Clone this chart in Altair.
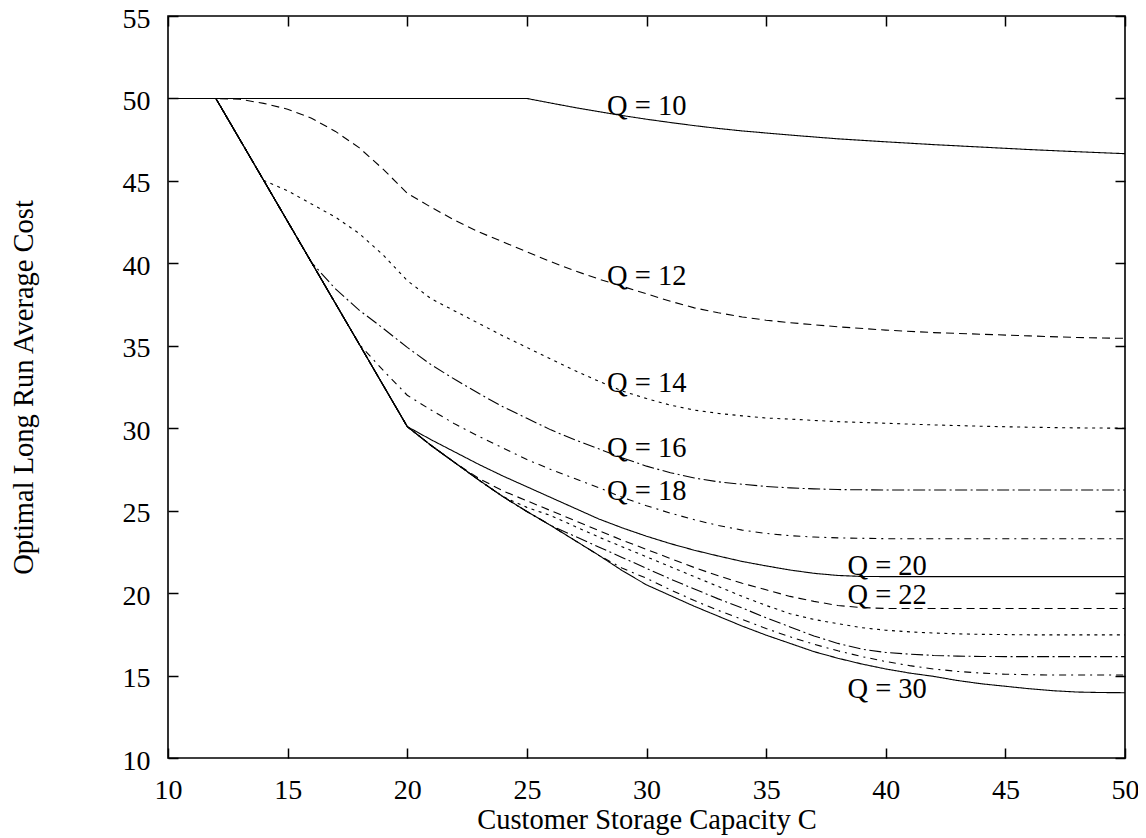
import altair as alt
import pandas as pd

# ---------------- data ----------------
# shared envelope: upper branch 10..20 and the Q = 30 curve beyond 20
ENV_C = [10, 12, 14, 16, 18, 20, 21, 22, 23, 24, 25, 26, 27, 28, 29, 30,
         31, 32, 33, 34, 35, 36, 37, 38, 39, 40, 41, 42, 43, 44, 45, 46,
         47, 48, 49, 50]
ENV_COST = [50, 50, 45.03, 40.05, 35.08, 30.1, 28.95, 27.9, 26.85, 25.85,
            24.95, 24.1, 23.2, 22.3, 21.35, 20.5, 19.85, 19.2, 18.6, 18.0,
            17.45, 16.95, 16.45, 16.05, 15.7, 15.4, 15.15, 14.95, 14.7,
            14.5, 14.35, 14.2, 14.08, 14.0, 13.97, 13.96]

# each curve's own part after it leaves the envelope
Q10_C = [25, 26, 27, 28, 29, 30, 31, 32, 33, 34, 36, 38, 40, 42, 44, 46, 48, 50]
Q10_COST = [50, 49.72, 49.45, 49.2, 48.96, 48.74, 48.54, 48.35, 48.18, 48.03,
            47.78, 47.55, 47.37, 47.2, 47.05, 46.9, 46.77, 46.65]

Q12_C = [13, 14, 15, 16, 17, 18, 19, 20, 21, 22, 23, 24, 25, 26, 27, 28, 29,
         30, 31, 32, 33, 34, 35, 36, 38, 40, 42, 44, 46, 48, 50]
Q12_COST = [49.95, 49.7, 49.35, 48.8, 48.0, 47.0, 45.7, 44.25, 43.4, 42.6,
            41.9, 41.3, 40.7, 40.1, 39.55, 39.05, 38.6, 38.15, 37.7, 37.3,
            37.0, 36.75, 36.55, 36.4, 36.15, 35.95, 35.8, 35.7, 35.6, 35.5,
            35.45]

Q14_C = [15, 16, 17, 18, 19, 20, 21, 22, 23, 24, 25, 26, 27, 28, 29, 30, 31,
         32, 33, 34, 35, 36, 38, 40, 42, 44, 46, 48, 50]
Q14_COST = [44.4, 43.6, 42.8, 41.8, 40.5, 38.95, 37.85, 37.1, 36.35, 35.6,
            34.9, 34.2, 33.5, 32.85, 32.25, 31.8, 31.4, 31.1, 30.9, 30.75,
            30.62, 30.55, 30.4, 30.3, 30.2, 30.12, 30.06, 30.02, 30.0]

Q16_C = [17, 18, 19, 20, 21, 22, 23, 24, 25, 26, 27, 28, 29, 30, 31, 32, 33,
         34, 35, 36, 37, 38, 40, 50]
Q16_COST = [38.45, 37.15, 36.05, 34.9, 33.85, 32.95, 32.1, 31.3, 30.6, 29.9,
            29.3, 28.75, 28.2, 27.7, 27.3, 26.98, 26.75, 26.6, 26.47, 26.38,
            26.32, 26.28, 26.25, 26.25]

Q18_C = [19, 20, 21, 22, 23, 24, 25, 26, 27, 28, 29, 30, 31, 32, 33, 34, 35,
         36, 37, 38, 40, 50]
Q18_COST = [33.5, 32.0, 31.1, 30.25, 29.5, 28.8, 28.1, 27.5, 26.95, 26.4,
            25.8, 25.3, 24.85, 24.45, 24.1, 23.82, 23.62, 23.48, 23.4, 23.35,
            23.3, 23.3]

Q20_C = [21, 22, 23, 24, 25, 26, 27, 28, 29, 30, 31, 32, 33, 34, 35, 36, 37,
         38, 39, 40, 50]
Q20_COST = [29.3, 28.55, 27.8, 27.1, 26.45, 25.8, 25.15, 24.5, 23.95, 23.45,
            23.0, 22.6, 22.25, 21.92, 21.65, 21.4, 21.2, 21.07, 21.01, 21.0,
            21.0]

Q22_C = [23, 24, 25, 26, 27, 28, 29, 30, 31, 32, 33, 34, 35, 36, 37, 38, 39,
         40, 50]
Q22_COST = [26.95, 26.2, 25.6, 25.0, 24.4, 23.8, 23.2, 22.65, 22.1, 21.55,
            21.05, 20.6, 20.2, 19.8, 19.5, 19.25, 19.12, 19.07, 19.07]

Q24_C = [25, 26, 27, 28, 29, 30, 31, 32, 33, 34, 35, 36, 37, 38, 39, 40, 41,
         42, 43, 44, 46, 50]
Q24_COST = [25.2, 24.7, 24.05, 23.4, 22.8, 22.2, 21.6, 21.0, 20.4, 19.8,
            19.25, 18.75, 18.4, 18.15, 17.9, 17.75, 17.65, 17.58, 17.53,
            17.5, 17.47, 17.47]

Q26_C = [27, 28, 29, 30, 31, 32, 33, 34, 35, 36, 37, 38, 39, 40, 41, 42, 43,
         44, 45, 50]
Q26_COST = [23.45, 22.8, 22.15, 21.5, 20.85, 20.25, 19.65, 19.1, 18.5, 17.95,
            17.4, 16.95, 16.6, 16.4, 16.3, 16.22, 16.18, 16.16, 16.15, 16.15]

Q28_C = [29, 30, 31, 32, 33, 34, 35, 36, 37, 38, 39, 40, 41, 42, 43, 44, 45,
         46, 47, 50]
Q28_COST = [21.5, 20.9, 20.2, 19.55, 18.95, 18.4, 17.85, 17.35, 16.9, 16.5,
            16.15, 15.85, 15.6, 15.4, 15.25, 15.15, 15.08, 15.05, 15.03, 15.03]

Q_VALUES = [10, 12, 14, 16, 18, 20, 22, 24, 26, 28, 30]
BRANCHES = {
    10: (Q10_C, Q10_COST), 12: (Q12_C, Q12_COST), 14: (Q14_C, Q14_COST),
    16: (Q16_C, Q16_COST), 18: (Q18_C, Q18_COST), 20: (Q20_C, Q20_COST),
    22: (Q22_C, Q22_COST), 24: (Q24_C, Q24_COST), 26: (Q26_C, Q26_COST),
    28: (Q28_C, Q28_COST), 30: ([], []),
}

LABEL_TEXT = ["Q = 10", "Q = 12", "Q = 14", "Q = 16", "Q = 18",
              "Q = 20", "Q = 22", "Q = 30"]
LABEL_C = [28.35, 28.35, 28.35, 28.35, 28.35, 38.4, 38.4, 38.4]
LABEL_COST = [48.99, 38.68, 32.21, 28.24, 25.65, 21.1, 19.34, 13.62]

X_TICKS = [10, 15, 20, 25, 30, 35, 40, 45, 50]
Y_TICKS = [10, 15, 20, 25, 30, 35, 40, 45, 50, 55]

# line styles cycle like the original: solid, dashed, dotted, dash-dot, dash-dot (fine)
DASHES = [[1, 0], [8, 5], [3, 4.5], [12, 3.5, 2, 3.5], [7, 5, 2, 5],
          [1, 0], [8, 5], [3, 4.5], [12, 3.5, 2, 3.5], [7, 5, 2, 5], [1, 0]]

# ---------------- build table ----------------
rows = []
for q in Q_VALUES:
    start = q if q < 30 else 50
    for c, v in zip(ENV_C, ENV_COST):
        if c <= start:
            rows.append({"Q": str(q), "C": c, "cost": v})
    bc, bv = BRANCHES[q]
    for c, v in zip(bc, bv):
        rows.append({"Q": str(q), "C": c, "cost": v})
df = pd.DataFrame(rows)
lab = pd.DataFrame({"label": LABEL_TEXT, "C": LABEL_C, "cost": LABEL_COST})

FONT = "Liberation Serif, Times New Roman, serif"
x_scale = alt.Scale(domain=[10, 50], nice=False, zero=False)
y_scale = alt.Scale(domain=[10, 55], nice=False, zero=False)

common_axis = dict(offset=-10, tickSize=10, tickWidth=1.5, tickColor="black",
                   domain=False, grid=False)

lines = alt.Chart(df).mark_line(color="black", strokeWidth=1.1).encode(
    x=alt.X("C:Q", scale=x_scale, axis=alt.Axis(
        orient="bottom", values=X_TICKS, labelPadding=18, labelFont=FONT,
        labelFontSize=28, labelColor="black", labelFlush=False,
        labelOverlap=False, title="Customer Storage Capacity C",
        titleFont=FONT, titleFontSize=28.5, titleFontWeight="normal",
        titleColor="black", titleX=478.5, titleY=80,
        titleBaseline="alphabetic", titleAlign="center", **common_axis)),
    y=alt.Y("cost:Q", scale=y_scale, axis=alt.Axis(
        orient="left", values=Y_TICKS, labelPadding=18, labelFont=FONT,
        labelFontSize=28, labelColor="black", labelOverlap=False,
        labelOffset=3,
        title="Optimal Long Run Average Cost", titleFont=FONT,
        titleFontSize=28.5, titleFontWeight="normal", titleColor="black",
        titleX=-146, titleY=371, titleAngle=270, titleBaseline="alphabetic",
        titleAlign="center", **common_axis)),
    strokeDash=alt.StrokeDash("Q:N", scale=alt.Scale(
        domain=[str(q) for q in Q_VALUES], range=DASHES), legend=None),
)

labels = alt.Chart(lab).mark_text(
    align="left", baseline="alphabetic", font=FONT, fontSize=28.5,
    color="black").encode(
    x=alt.X("C:Q", scale=x_scale, axis=alt.Axis(
        orient="top", values=X_TICKS, labels=False, title="", **common_axis)),
    y=alt.Y("cost:Q", scale=y_scale, axis=alt.Axis(
        orient="right", values=Y_TICKS, labels=False, title="", **common_axis)),
    text="label:N",
)

chart = alt.layer(lines, labels).resolve_axis(
    x="independent", y="independent"
).properties(
    width=957, height=742,
    padding={"left": 160, "top": 8, "right": 13, "bottom": 80},
    autosize=alt.AutoSizeParams(type="none"),
    background="white",
).configure_view(stroke="black", strokeWidth=1.6)

chart.save("out.html", embed_options={"renderer": "svg", "actions": False})
